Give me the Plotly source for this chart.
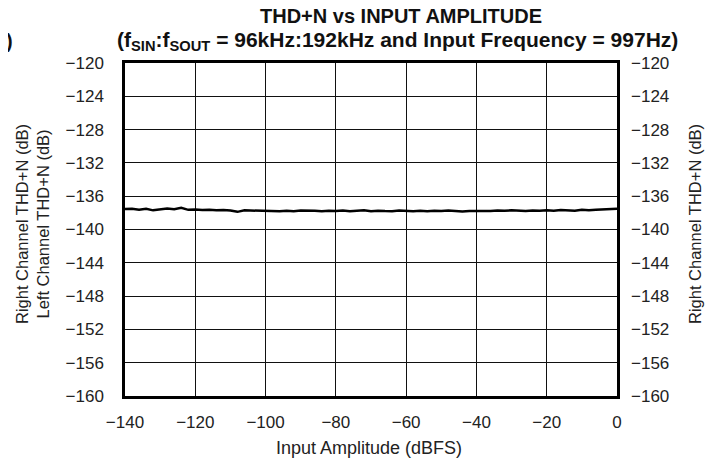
import plotly.graph_objects as go

amplitude = [
    -140, -138, -136, -134, -132, -130, -128, -126, -124, -122,
    -120, -118, -116, -114, -112, -110, -108, -106, -104, -102,
    -100, -98, -96, -94, -92, -90, -88, -86, -84, -82,
    -80, -78, -76, -74, -72, -70, -68, -66, -64, -62,
    -60, -58, -56, -54, -52, -50, -48, -46, -44, -42,
    -40, -38, -36, -34, -32, -30, -28, -26, -24, -22,
    -20, -18, -16, -14, -12, -10, -8, -6, -4, -2, 0,
]
thd_n = [
    -137.55, -137.50, -137.62, -137.52, -137.70, -137.58, -137.48, -137.56, -137.40, -137.64,
    -137.60, -137.66, -137.63, -137.70, -137.66, -137.72, -137.88, -137.70, -137.74, -137.76,
    -137.80, -137.78, -137.82, -137.74, -137.80, -137.72, -137.78, -137.76, -137.80, -137.74,
    -137.78, -137.72, -137.80, -137.76, -137.70, -137.82, -137.74, -137.78, -137.80, -137.72,
    -137.78, -137.80, -137.76, -137.82, -137.74, -137.78, -137.72, -137.80, -137.84, -137.78,
    -137.80, -137.74, -137.78, -137.72, -137.76, -137.70, -137.74, -137.78, -137.72, -137.76,
    -137.70, -137.74, -137.66, -137.72, -137.76, -137.62, -137.70, -137.64, -137.58, -137.60, -137.52,
]

y_ticks = [-120, -124, -128, -132, -136, -140, -144, -148, -152, -156, -160]
x_ticks = [-140, -120, -100, -80, -60, -40, -20, 0]

font_family = "Liberation Sans, Arial, Helvetica, sans-serif"
text_color = "#222"

# plot box in screen pixels (the page body adds an 8px offset)
PX_L, PX_R, PX_T, PX_B = 125, 617, 63, 396


def px(x):
    return (x - PX_L) / (PX_R - PX_L)


def py(y):
    return (PX_B - y) / (PX_B - PX_T)


def label(text, x, y, size, angle=0, anchor="center", color=text_color):
    return dict(text=text, xref="paper", yref="paper", x=px(x), y=py(y),
                xanchor=anchor, yanchor="middle", textangle=angle,
                showarrow=False, font=dict(size=size, color=color))


fig = go.Figure()
fig.add_trace(go.Scatter(
    x=amplitude, y=thd_n, mode="lines",
    line=dict(color="black", width=2.5), showlegend=False,
))
# invisible trace to carry the right-hand axis
fig.add_trace(go.Scatter(
    x=amplitude, y=thd_n, mode="lines", yaxis="y2",
    line=dict(color="rgba(0,0,0,0)", width=0), showlegend=False, hoverinfo="skip",
))

axis_common = dict(
    showgrid=True, gridcolor="#111", gridwidth=1,
    showline=True, linecolor="black", linewidth=2.5, mirror=True,
    zeroline=False, ticks="", tickfont=dict(size=17, color=text_color),
)

fig.update_layout(
    width=715, height=462,
    margin=dict(l=PX_L - 8, r=715 + 8 - PX_R, t=PX_T - 8, b=462 + 8 - PX_B),
    paper_bgcolor="white", plot_bgcolor="white",
    font=dict(family=font_family, color=text_color),
    xaxis=dict(range=[-140, 0], tickvals=x_ticks, ticklabelstandoff=9, **axis_common),
    yaxis=dict(range=[-160, -120], tickvals=y_ticks, ticklabelstandoff=15, **axis_common),
    yaxis2=dict(
        range=[-160, -120], tickvals=y_ticks, overlaying="y", side="right",
        showgrid=False, zeroline=False, ticks="", ticklabelstandoff=13,
        tickfont=dict(size=17, color=text_color),
    ),
    annotations=[
        label("<b>THD+N vs INPUT AMPLITUDE</b>", 401, 16, 20, color="#111"),
        label("<b>(f<sub>SIN</sub>:f<sub>SOUT</sub> = 96kHz:192kHz and Input Frequency = 997Hz)</b>",
              397, 41, 21, color="#111"),
        label("<b>)</b>", 9, 41, 20, color="#111"),
        label("Right Channel THD+N (dB)<br>Left Channel THD+N (dB)", 32, 224, 16.5, angle=-90),
        label("Right Channel THD+N (dB)", 695, 224, 16.5, angle=-90),
        label("Input Amplitude (dBFS)", 369, 448, 18),
    ],
)

fig.write_html("out.html")
